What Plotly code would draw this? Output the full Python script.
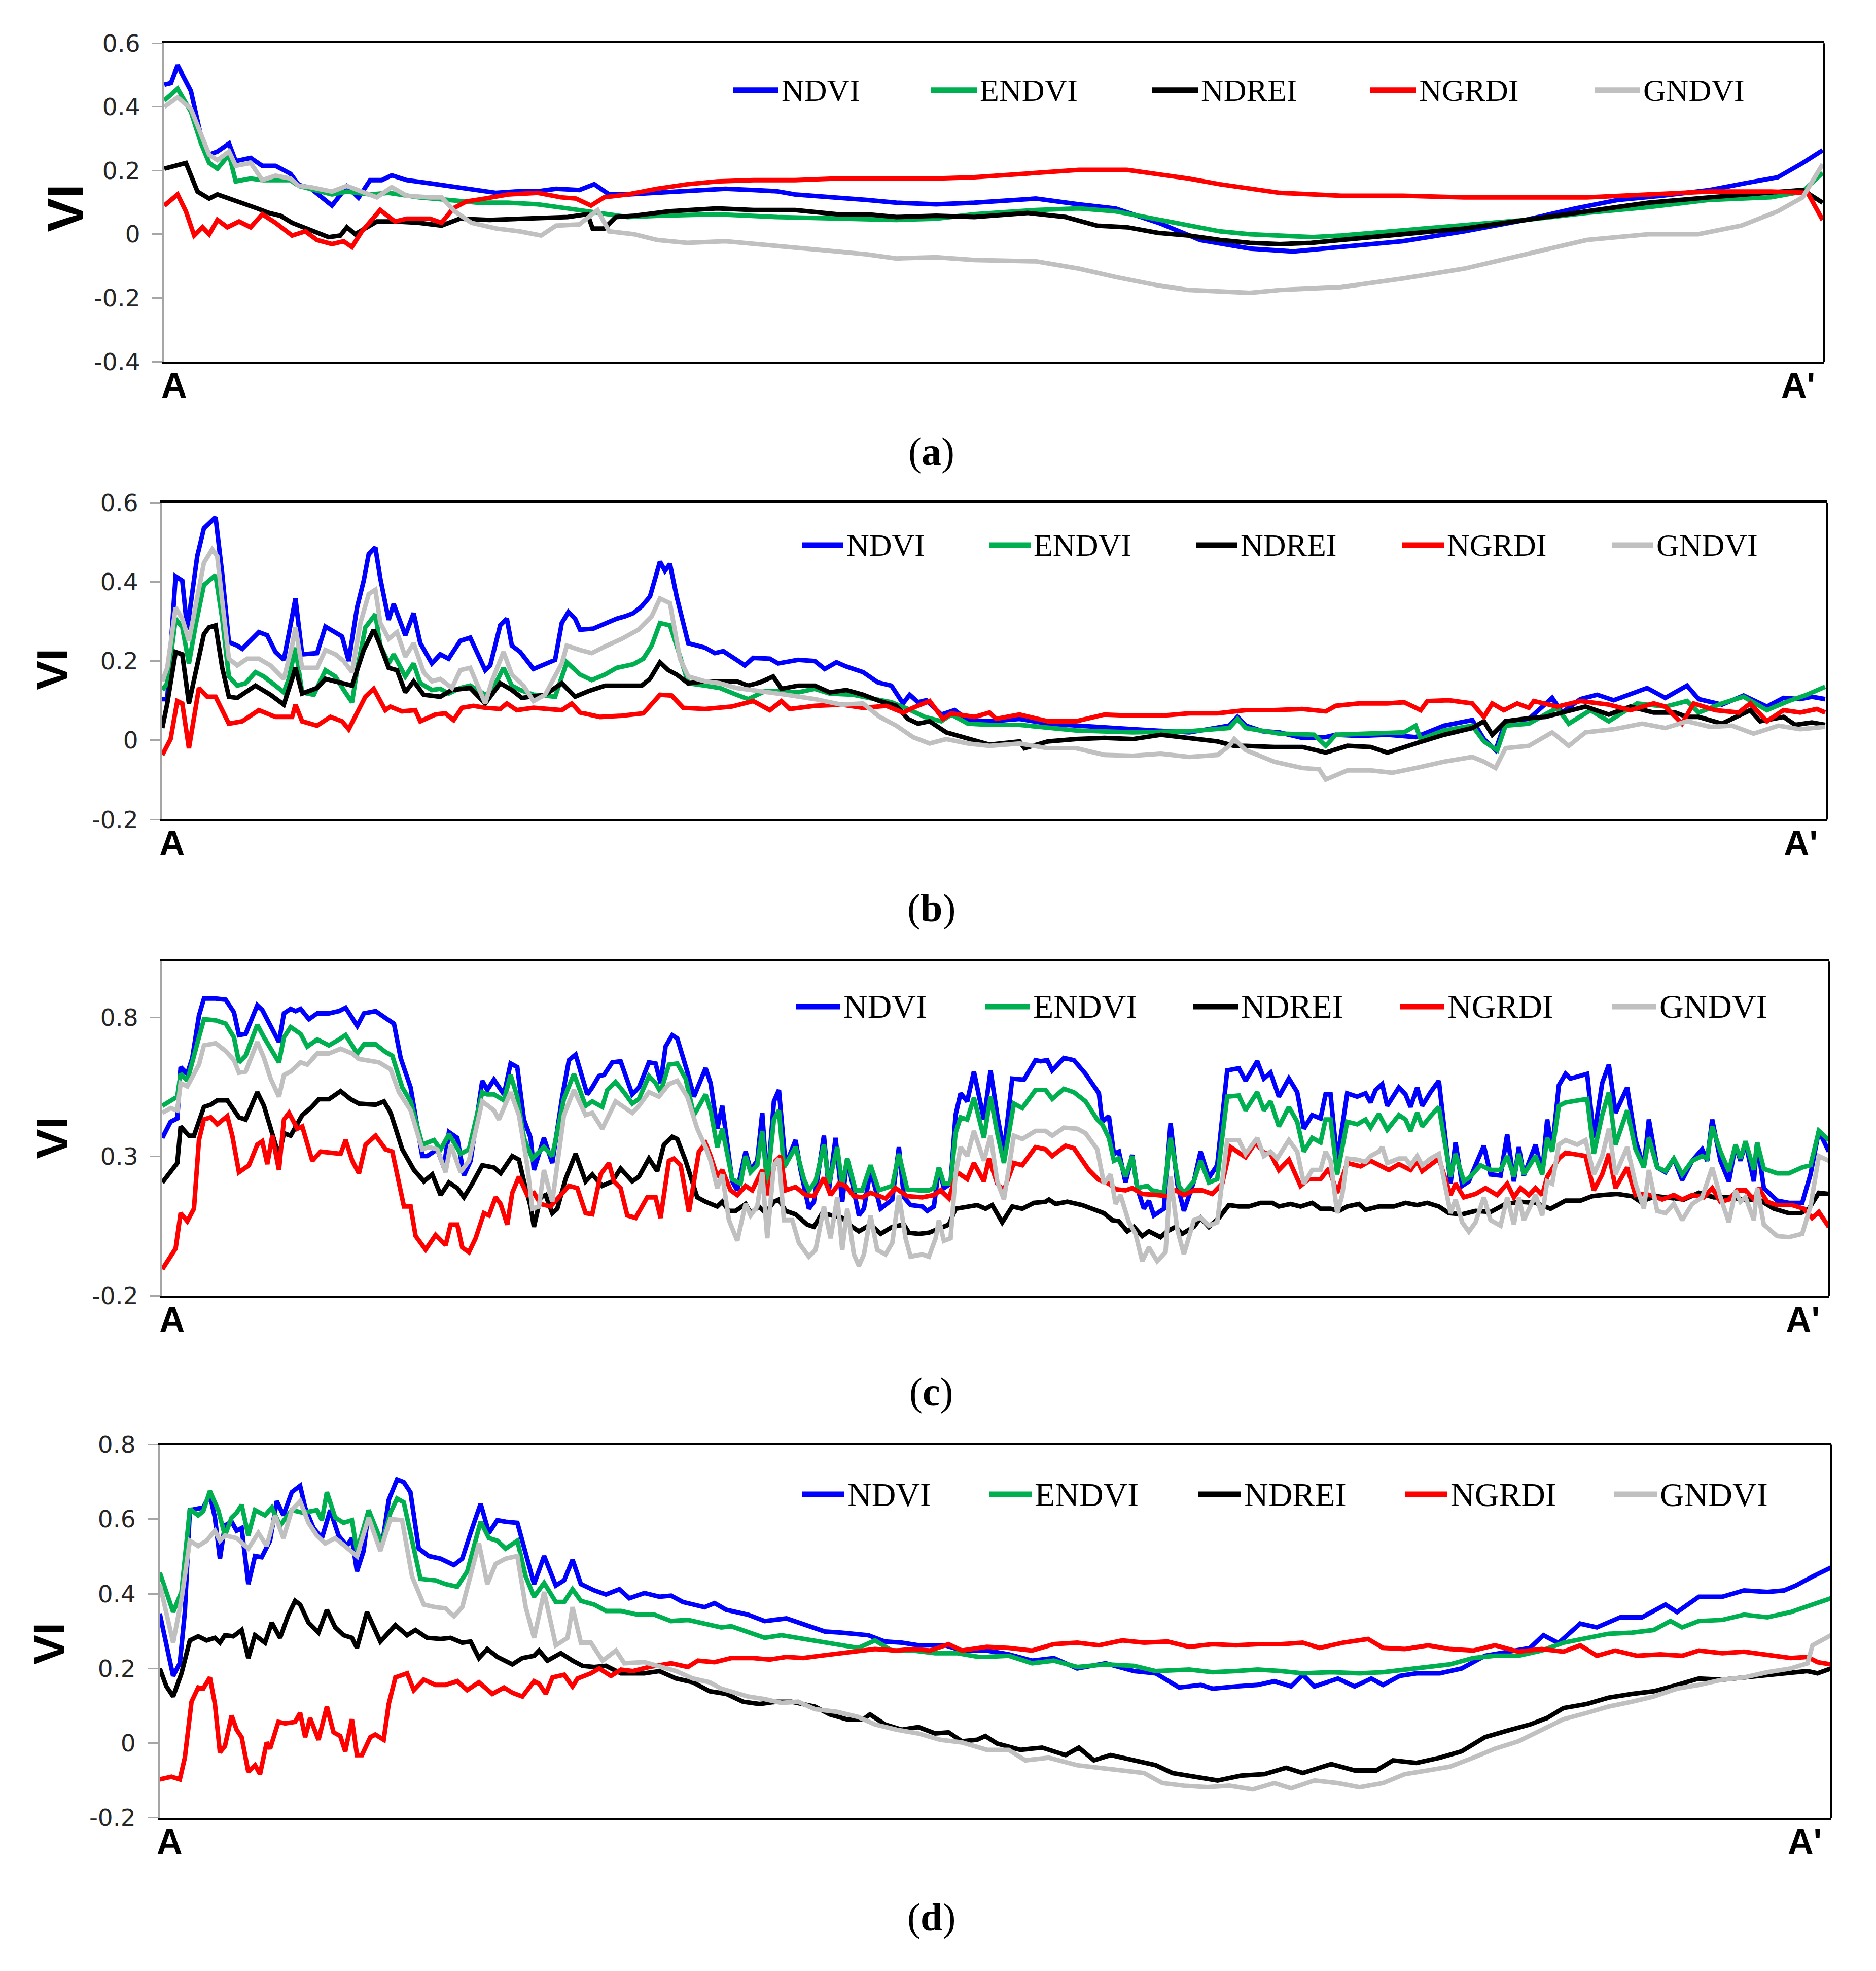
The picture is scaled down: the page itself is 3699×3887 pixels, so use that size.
import plotly.graph_objects as go

# ---- 데이터: (A→A' 위치 0~1000, VI 값) ----
a_ndvi = [(0,.47),(4,.475),(8,.53),(16,.45),(22,.31),(27,.25),(32,.26),(39,.285),(43,.23),(52,.24),(59,.215),(67,.215),(76,.19),(81,.155),(88,.145),(101,.09),(110,.15),(117,.115),(124,.17),(131,.17),(137,.185),(146,.17),(160,.16),(175,.148),(189,.139),(200,.13),(214,.135),(225,.135),(236,.143),(250,.139),(259,.157),(268,.125),(279,.125),(297,.13),(315,.135),(338,.143),(355,.139),(369,.135),(380,.125),(405,.116),(423,.108),(441,.099),(465,.094),(488,.099),(525,.112),(551,.094),(573,.081),(599,.036),(624,-.018),(654,-.045),(680,-.054),(709,-.04),(746,-.022),(783,.009),(820,.045),(850,.081),(876,.108),(902,.121),(931,.139),(953,.161),(972,.179),(987,.224),(999,.264)]
a_endvi = [(0,.42),(8,.457),(16,.385),(22,.287),(27,.224),(32,.206),(39,.25),(43,.166),(52,.175),(59,.17),(67,.17),(76,.17),(81,.152),(88,.143),(101,.125),(110,.134),(124,.125),(135,.13),(153,.116),(171,.108),(189,.099),(207,.099),(225,.094),(243,.081),(261,.067),(279,.054),(297,.058),(333,.063),(369,.054),(405,.049),(441,.045),(465,.049),(488,.063),(525,.076),(551,.081),(573,.072),(599,.045),(617,.027),(636,.009),(654,0),(672,-.004),(691,-.009),(709,-.004),(746,.013),(783,.027),(820,.045),(857,.067),(894,.085),(931,.108),(968,.116),(987,.134),(999,.193)]
a_ndrei = [(0,.206),(8,.215),(13,.224),(20,.134),(27,.112),(32,.125),(45,.103),(56,.081),(63,.067),(70,.058),(77,.036),(88,.013),(99,-.009),(106,-.004),(110,.022),(115,0),(128,.04),(139,.04),(153,.036),(167,.027),(178,.049),(196,.045),(218,.049),(243,.054),(255,.063),(258,.018),(265,.018),(272,.054),(283,.058),(304,.072),(333,.081),(355,.076),(380,.076),(405,.063),(423,.063),(441,.054),(465,.058),(488,.054),(520,.067),(543,.054),(562,.027),(580,.022),(599,.004),(617,-.004),(636,-.018),(654,-.027),(672,-.031),(691,-.027),(709,-.018),(746,0),(783,.018),(820,.045),(857,.072),(894,.099),(931,.116),(968,.13),(987,.139),(999,.099)]
a_ngrdi = [(0,.09),(8,.125),(13,.072),(18,-.004),(23,.022),(27,0),(32,.045),(38,.022),(45,.04),(52,.022),(59,.063),(67,.036),(77,-.004),(85,.009),(92,-.018),(101,-.031),(108,-.022),(113,-.04),(119,.009),(130,.076),(139,.04),(146,.049),(160,.049),(167,.036),(174,.081),(182,.103),(193,.112),(207,.125),(225,.13),(239,.116),(248,.112),(257,.09),(265,.116),(279,.125),(297,.143),(315,.157),(333,.166),(355,.17),(380,.17),(405,.175),(434,.175),(465,.175),(488,.179),(525,.193),(551,.202),(580,.202),(599,.188),(617,.175),(636,.157),(654,.143),(672,.13),(709,.121),(746,.121),(783,.116),(820,.116),(857,.116),(894,.125),(931,.134),(968,.134),(990,.13),(999,.045)]
a_gndvi = [(0,.40),(8,.43),(16,.394),(22,.314),(27,.25),(32,.233),(39,.26),(43,.215),(52,.224),(59,.17),(67,.184),(76,.175),(81,.152),(88,.148),(101,.134),(110,.152),(117,.139),(128,.116),(137,.148),(146,.121),(160,.116),(167,.116),(175,.072),(185,.036),(200,.018),(214,.009),(227,-.004),(236,.027),(250,.031),(261,.076),(268,.009),(283,0),(297,-.018),(315,-.027),(338,-.022),(355,-.031),(369,-.036),(387,-.045),(405,-.054),(423,-.063),(441,-.076),(465,-.072),(488,-.081),(525,-.085),(551,-.108),(573,-.134),(599,-.161),(617,-.175),(636,-.179),(654,-.184),(672,-.175),(709,-.166),(746,-.139),(783,-.108),(820,-.063),(857,-.018),(894,0),(924,0),(950,.027),(972,.072),(987,.116),(999,.22)]

b_ndvi = [(0,.104),(3,.104),(8,.414),(12,.403),(15,.28),(21,.465),(25,.535),(28,.546),(32,.563),(36,.42),(40,.248),(45,.239),(48,.231),(58,.273),(63,.265),(68,.223),(73,.203),(76,.268),(80,.358),(84,.217),(93,.22),(98,.287),(104,.273),(108,.262),(112,.2),(117,.335),(121,.403),(124,.47),(128,.487),(131,.408),(136,.304),(139,.344),(146,.265),(151,.321),(155,.245),(162,.194),(167,.217),(172,.206),(179,.251),(185,.259),(194,.177),(197,.189),(203,.29),(207,.307),(210,.239),(215,.223),(223,.18),(230,.194),(236,.203),(240,.296),(244,.324),(248,.307),(251,.279),(259,.282),(266,.296),(273,.307),(278,.313),(283,.321),(288,.338),(293,.363),(299,.451),(302,.428),(305,.445),(309,.363),(316,.245),(326,.234),(332,.22),(337,.225),(345,.203),(350,.189),(355,.208),(365,.206),(370,.194),(382,.203),(392,.2),(398,.18),(405,.197),(411,.186),(421,.172),(430,.146),(438,.138),(445,.093),(449,.115),(454,.096),(459,.101),(468,.065),(476,.076),(484,.051),(498,.048),(515,.054),(532,.042),(549,.037),(583,.028),(617,.02),(641,.037),(646,.059),(651,.037),(661,.023),(671,.02),(685,.006),(699,.008),(705,.014),(719,.011),(736,.014),(753,.008),(770,.037),(787,.051),(794,.003),(801,-.025),(807,.048),(821,.054),(835,.107),(841,.07),(852,.104),(862,.115),(872,.101),(881,.115),(892,.132),(903,.107),(916,.138),(923,.104),(937,.09),(950,.113),(964,.085),(974,.107),(984,.104),(991,.11),(999,.104)]
b_endvi = [(0,.127),(3,.144),(8,.307),(12,.285),(16,.194),(20,.29),(25,.392),(28,.403),(32,.417),(36,.307),(40,.161),(45,.138),(50,.144),(56,.172),(61,.161),(68,.138),(73,.121),(76,.155),(80,.234),(84,.121),(91,.115),(98,.177),(104,.161),(109,.127),(114,.096),(117,.177),(122,.285),(128,.318),(131,.239),(136,.194),(139,.217),(146,.161),(151,.194),(155,.144),(162,.127),(167,.13),(172,.118),(179,.132),(185,.138),(194,.115),(198,.124),(205,.183),(210,.138),(215,.127),(223,.115),(230,.113),(236,.11),(243,.197),(251,.166),(258,.152),(266,.166),(273,.183),(283,.192),(289,.206),(294,.239),(299,.296),(305,.29),(309,.239),(316,.144),(326,.138),(335,.132),(345,.115),(352,.104),(362,.124),(370,.124),(382,.121),(392,.13),(401,.118),(415,.115),(428,.104),(438,.096),(448,.079),(458,.059),(468,.048),(474,.065),(484,.042),(497,.039),(515,.039),(532,.031),(549,.025),(583,.02),(617,.023),(641,.031),(646,.054),(651,.031),(671,.017),(692,.014),(699,-.014),(705,.014),(726,.017),(746,.02),(753,.037),(756,.003),(770,.025),(787,.037),(794,-.003),(802,-.025),(807,.037),(821,.042),(838,.082),(845,.042),(858,.076),(869,.048),(886,.093),(903,.085),(916,.099),(923,.07),(937,.093),(950,.11),(964,.076),(977,.099),(988,.115),(999,.135)]
b_ndrei = [(0,.031),(3,.093),(8,.223),(12,.217),(16,.093),(20,.166),(25,.268),(28,.285),(32,.29),(36,.183),(40,.11),(45,.107),(56,.138),(65,.115),(73,.09),(78,.155),(80,.183),(84,.118),(93,.132),(98,.155),(109,.144),(114,.138),(121,.228),(127,.279),(131,.239),(136,.183),(141,.177),(146,.121),(151,.149),(157,.115),(167,.11),(174,.127),(185,.132),(194,.093),(203,.144),(210,.127),(216,.107),(230,.115),(240,.144),(248,.11),(256,.124),(266,.138),(276,.138),(288,.138),(293,.155),(299,.197),(304,.177),(309,.166),(316,.144),(326,.149),(335,.149),(345,.149),(352,.138),(359,.146),(367,.161),(372,.13),(382,.138),(392,.138),(401,.121),(411,.127),(421,.115),(431,.099),(441,.087),(448,.054),(454,.042),(461,.048),(471,.02),(481,.008),(491,-.003),(497,-.011),(515,-.003),(518,-.02),(532,-.003),(549,.003),(566,.006),(583,.003),(600,.014),(617,.006),(634,-.003),(644,-.014),(651,-.014),(668,-.017),(685,-.017),(699,-.031),(712,-.014),(726,-.017),(736,-.031),(753,-.008),(770,.014),(787,.031),(794,.048),(799,.014),(807,.048),(821,.056),(831,.059),(841,.07),(855,.085),(869,.065),(882,.085),(896,.07),(909,.07),(916,.059),(923,.059),(937,.042),(954,.076),(960,.048),(974,.059),(981,.039),(991,.045),(999,.039)]
b_ngrdi = [(0,-.037),(5,.003),(9,.099),(12,.093),(16,-.02),(22,.132),(27,.11),(32,.11),(40,.042),(48,.048),(58,.076),(68,.059),(78,.059),(80,.09),(84,.048),(93,.037),(101,.059),(108,.048),(112,.028),(117,.07),(122,.11),(127,.13),(134,.076),(137,.085),(144,.073),(152,.076),(155,.048),(164,.065),(170,.068),(175,.051),(180,.082),(187,.087),(194,.082),(203,.079),(207,.093),(213,.076),(223,.082),(240,.076),(246,.093),(251,.07),(263,.059),(276,.062),(289,.068),(299,.115),(306,.113),(313,.082),(326,.079),(342,.085),(355,.099),(365,.076),(372,.099),(377,.079),(392,.087),(408,.09),(421,.082),(435,.087),(445,.07),(451,.082),(461,.099),(469,.054),(474,.068),(488,.059),(497,.07),(501,.054),(515,.065),(532,.048),(549,.048),(566,.065),(583,.062),(600,.062),(617,.068),(634,.068),(651,.076),(668,.076),(685,.079),(699,.073),(705,.087),(719,.093),(736,.093),(746,.096),(756,.076),(760,.099),(773,.101),(787,.093),(794,.059),(799,.093),(806,.076),(814,.093),(821,.082),(824,.099),(838,.085),(852,.099),(869,.09),(882,.076),(896,.093),(903,.085),(913,.042),(920,.093),(933,.076),(947,.07),(954,.093),(964,.048),(974,.076),(984,.07),(994,.079),(999,.07)]
b_gndvi = [(0,.149),(3,.183),(8,.335),(12,.307),(16,.251),(20,.341),(25,.448),(30,.482),(33,.465),(36,.352),(40,.206),(45,.189),(51,.206),(58,.206),(65,.189),(73,.155),(78,.239),(80,.285),(84,.183),(93,.183),(98,.228),(104,.217),(109,.2),(114,.172),(119,.296),(124,.369),(128,.38),(131,.296),(136,.256),(141,.273),(146,.211),(151,.245),(157,.172),(162,.149),(167,.155),(174,.132),(179,.177),(185,.183),(194,.093),(198,.149),(205,.223),(210,.166),(217,.138),(223,.099),(230,.115),(240,.194),(243,.239),(251,.228),(258,.22),(266,.237),(276,.256),(286,.279),(294,.313),(299,.358),(305,.346),(311,.206),(316,.161),(326,.149),(335,.144),(345,.132),(355,.127),(365,.121),(375,.115),(392,.104),(408,.09),(421,.093),(431,.059),(441,.037),(451,.008),(461,-.008),(471,.003),(484,-.008),(497,-.014),(515,-.008),(532,-.02),(549,-.02),(566,-.037),(583,-.039),(600,-.034),(617,-.042),(634,-.037),(641,-.014),(644,.003),(651,-.025),(668,-.054),(685,-.07),(695,-.073),(699,-.099),(712,-.076),(726,-.076),(739,-.082),(753,-.07),(770,-.054),(787,-.042),(794,-.054),(801,-.07),(807,-.02),(821,-.014),(835,.02),(845,-.014),(855,.02),(872,.028),(889,.042),(903,.031),(916,.048),(930,.034),(943,.037),(956,.017),(971,.037),(984,.028),(999,.034)]

c_ndvi = [(0,.367),(5,.425),(9,.437),(11,.621),(15,.597),(18,.654),(22,.806),(25,.867),(32,.867),(38,.863),(43,.818),(46,.736),(50,.74),(57,.843),(60,.826),(65,.769),(70,.711),(73,.814),(77,.83),(80,.822),(83,.83),(88,.793),(93,.814),(100,.814),(106,.822),(110,.834),(117,.769),(121,.814),(128,.822),(134,.797),(139,.777),(143,.654),(149,.548),(156,.302),(159,.302),(165,.326),(169,.261),(172,.388),(177,.367),(181,.232),(185,.285),(192,.572),(195,.539),(199,.576),(205,.523),(209,.634),(213,.621),(217,.433),(221,.367),(223,.252),(229,.367),(234,.277),(240,.515),(244,.646),(248,.666),(255,.523),(258,.548),(262,.589),(265,.593),(270,.638),(275,.642),(282,.523),(286,.548),(292,.638),(296,.634),(299,.564),(302,.695),(306,.736),(309,.724),(315,.605),(319,.515),(326,.617),(329,.564),(333,.4),(336,.482),(342,.211),(345,.179),(350,.318),(353,.252),(357,.285),(360,.457),(363,.195),(367,.498),(370,.539),(374,.269),(380,.359),(383,.252),(388,.113),(391,.138),(397,.375),(400,.179),(404,.367),(408,.138),(411,.293),(415,.179),(418,.089),(421,.113),(425,.252),(431,.113),(438,.146),(442,.334),(445,.154),(449,.126),(456,.121),(459,.105),(463,.121),(466,.261),(469,.187),(473,.203),(476,.449),(479,.527),(483,.498),(487,.605),(493,.433),(497,.609),(501,.449),(505,.318),(510,.58),(517,.576),(524,.646),(527,.642),(531,.646),(534,.609),(541,.654),(547,.646),(554,.597),(562,.527),(564,.425),(568,.445),(571,.31),(574,.318),(578,.207),(582,.306),(585,.187),(589,.113),(592,.142),(595,.089),(601,.113),(605,.42),(609,.203),(613,.105),(619,.211),(623,.318),(628,.224),(633,.269),(639,.609),(646,.617),(650,.572),(657,.642),(661,.58),(665,.601),(670,.515),(676,.58),(681,.531),(685,.4),(690,.449),(695,.437),(698,.523),(701,.523),(705,.285),(711,.527),(717,.515),(722,.527),(725,.494),(728,.539),(732,.56),(735,.482),(742,.548),(746,.523),(749,.478),(753,.548),(756,.482),(761,.531),(766,.572),(773,.203),(776,.351),(780,.195),(784,.211),(788,.269),(793,.339),(797,.236),(803,.232),(807,.38),(811,.211),(814,.334),(817,.232),(824,.343),(828,.24),(831,.433),(834,.326),(838,.556),(842,.597),(845,.58),(855,.597),(859,.367),(864,.564),(868,.63),(872,.457),(879,.548),(884,.359),(889,.261),(892,.433),(897,.261),(902,.244),(907,.293),(912,.216),(918,.285),(924,.326),(927,.285),(930,.433),(935,.285),(940,.211),(944,.339),(947,.285),(950,.351),(955,.211),(957,.351),(961,.187),(969,.142),(976,.134),(984,.134),(989,.236),(994,.392),(997,.351),(1000,.318)]
c_endvi = [(0,.482),(5,.498),(9,.515),(11,.597),(15,.572),(22,.728),(25,.793),(32,.789),(38,.777),(43,.728),(46,.638),(50,.662),(57,.773),(61,.728),(65,.687),(70,.638),(73,.728),(77,.765),(83,.74),(87,.695),(93,.72),(100,.699),(106,.72),(110,.736),(117,.67),(121,.703),(128,.703),(134,.675),(138,.662),(144,.548),(149,.498),(156,.343),(163,.359),(167,.326),(172,.38),(179,.31),(184,.326),(192,.531),(195,.523),(199,.523),(205,.502),(209,.593),(213,.515),(217,.367),(222,.293),(229,.334),(234,.302),(241,.507),(247,.597),(254,.482),(258,.498),(264,.478),(267,.539),(272,.568),(277,.531),(282,.49),(286,.507),(292,.589),(296,.564),(299,.531),(304,.63),(309,.634),(314,.58),(319,.449),(326,.523),(329,.466),(333,.334),(336,.4),(342,.219),(347,.203),(350,.302),(353,.244),(357,.269),(360,.392),(363,.203),(367,.433),(370,.466),(373,.261),(380,.334),(385,.219),(388,.179),(392,.211),(397,.343),(400,.203),(405,.334),(408,.195),(411,.293),(416,.179),(420,.179),(425,.269),(430,.179),(438,.195),(442,.31),(447,.183),(454,.179),(460,.179),(463,.187),(466,.261),(469,.203),(473,.203),(476,.384),(479,.441),(483,.433),(487,.511),(493,.367),(497,.515),(501,.384),(505,.277),(511,.49),(516,.474),(524,.539),(530,.539),(534,.507),(541,.543),(547,.531),(554,.498),(561,.433),(564,.416),(568,.367),(571,.285),(574,.293),(578,.228),(582,.302),(585,.187),(591,.195),(594,.179),(601,.17),(605,.367),(610,.195),(613,.17),(619,.211),(623,.285),(628,.207),(633,.219),(639,.515),(646,.519),(650,.466),(657,.531),(661,.466),(665,.498),(670,.408),(676,.478),(681,.425),(685,.318),(690,.367),(695,.351),(698,.433),(701,.433),(705,.236),(711,.425),(717,.416),(722,.433),(725,.404),(730,.453),(735,.396),(742,.449),(746,.433),(749,.392),(753,.457),(756,.408),(761,.445),(766,.478),(773,.228),(776,.31),(781,.211),(785,.228),(791,.269),(797,.252),(803,.252),(807,.302),(811,.228),(814,.31),(817,.236),(824,.302),(828,.236),(831,.367),(834,.318),(838,.482),(842,.494),(853,.502),(855,.507),(859,.31),(864,.449),(868,.531),(872,.343),(879,.466),(884,.326),(889,.261),(892,.367),(897,.261),(902,.248),(907,.293),(912,.236),(918,.285),(924,.302),(927,.293),(930,.408),(935,.318),(940,.248),(944,.343),(947,.293),(950,.355),(955,.252),(957,.351),(961,.256),(969,.24),(976,.24),(984,.261),(989,.269),(994,.392),(997,.375),(1000,.359)]
c_ndrei = [(0,.207),(4,.236),(9,.277),(11,.408),(16,.375),(19,.375),(25,.478),(29,.486),(33,.502),(39,.502),(46,.441),(50,.433),(57,.531),(61,.482),(66,.375),(70,.302),(73,.384),(77,.375),(84,.449),(89,.474),(94,.506),(100,.506),(107,.535),(113,.506),(118,.49),(128,.486),(133,.498),(137,.457),(144,.326),(151,.252),(157,.211),(162,.236),(167,.162),(172,.207),(177,.187),(181,.154),(186,.203),(192,.269),(199,.261),(203,.24),(210,.302),(214,.289),(217,.211),(221,.121),(223,.048),(227,.154),(230,.162),(234,.097),(237,.113),(242,.22),(248,.31),(254,.211),(258,.236),(264,.195),(270,.211),(275,.257),(282,.211),(286,.228),(292,.293),(297,.248),(301,.343),(306,.371),(309,.363),(314,.285),(321,.154),(326,.138),(333,.121),(336,.138),(340,.105),(344,.105),(350,.13),(353,.097),(358,.121),(362,.097),(367,.138),(370,.146),(374,.105),(380,.093),(387,.056),(391,.048),(396,.097),(402,.089),(408,.08),(414,.048),(418,.032),(425,.056),(431,.023),(438,.048),(445,.056),(448,.027),(454,.023),(460,.027),(465,.04),(472,.056),(476,.113),(483,.121),(489,.126),(494,.113),(498,.126),(504,.064),(510,.121),(516,.113),(523,.134),(530,.138),(532,.146),(536,.13),(543,.138),(552,.126),(559,.109),(565,.097),(570,.072),(574,.068),(579,.032),(583,.048),(588,.015),(592,.032),(599,.011),(603,.032),(608,.048),(612,.023),(619,.048),(623,.08),(628,.048),(634,.08),(640,.126),(646,.121),(652,.121),(659,.134),(666,.134),(670,.121),(677,.13),(683,.121),(690,.134),(695,.113),(701,.113),(706,.105),(711,.121),(718,.13),(722,.109),(730,.121),(739,.121),(746,.134),(753,.126),(759,.134),(766,.121),(772,.097),(780,.093),(788,.105),(797,.101),(806,.13),(815,.138),(824,.134),(833,.113),(842,.142),(851,.142),(858,.158),(864,.162),(873,.166),(882,.158),(887,.138),(896,.158),(905,.15),(913,.146),(922,.17),(931,.154),(940,.154),(949,.146),(958,.146),(967,.113),(976,.097),(983,.097),(988,.113),(994,.17),(1000,.166)]
c_ngrdi = [(0,-.104),(4,-.067),(8,-.03),(11,.097),(15,.068),(19,.113),(22,.359),(25,.433),(29,.441),(33,.416),(39,.445),(42,.375),(46,.244),(52,.269),(57,.343),(60,.355),(63,.273),(66,.375),(70,.252),(73,.433),(76,.457),(81,.4),(84,.408),(90,.285),(95,.318),(101,.314),(107,.31),(110,.359),(114,.285),(118,.24),(122,.343),(128,.375),(134,.326),(138,.318),(142,.203),(145,.121),(149,.121),(152,.015),(158,-.034),(164,.019),(170,-.018),(173,.056),(177,.056),(180,-.026),(184,-.043),(188,.007),(193,.097),(196,.089),(200,.154),(203,.13),(207,.056),(210,.17),(214,.228),(219,.162),(223,.17),(227,.13),(233,.121),(237,.146),(244,.195),(249,.187),(254,.097),(258,.093),(263,.236),(268,.277),(271,.211),(275,.187),(279,.089),(284,.08),(291,.154),(296,.154),(299,.08),(304,.285),(307,.293),(311,.269),(316,.101),(322,.318),(326,.347),(329,.302),(333,.228),(336,.252),(341,.179),(345,.162),(350,.195),(354,.179),(360,.252),(363,.162),(368,.285),(371,.302),(374,.179),(380,.191),(386,.162),(391,.158),(397,.224),(401,.162),(406,.203),(410,.195),(415,.158),(420,.154),(425,.17),(434,.15),(440,.187),(447,.158),(456,.154),(463,.162),(467,.179),(472,.15),(477,.244),(483,.219),(487,.277),(493,.211),(496,.293),(501,.203),(505,.179),(511,.277),(516,.269),(524,.334),(530,.326),(534,.302),(542,.339),(547,.33),(556,.252),(562,.216),(568,.203),(572,.183),(578,.179),(582,.187),(588,.166),(597,.162),(603,.158),(608,.179),(613,.162),(619,.179),(624,.179),(630,.166),(636,.203),(641,.334),(650,.298),(656,.351),(661,.314),(665,.31),(670,.252),(676,.289),(683,.195),(688,.219),(695,.219),(700,.257),(705,.17),(711,.277),(719,.265),(725,.285),(730,.269),(736,.252),(742,.273),(749,.252),(753,.285),(756,.248),(766,.293),(773,.162),(776,.203),(781,.154),(788,.166),(794,.187),(801,.162),(807,.203),(811,.154),(815,.187),(820,.162),(824,.187),(828,.162),(831,.228),(838,.293),(842,.314),(846,.31),(854,.302),(859,.179),(864,.236),(868,.31),(872,.187),(879,.261),(884,.162),(889,.166),(893,.162),(900,.146),(907,.162),(912,.146),(918,.162),(925,.154),(930,.187),(935,.138),(940,.146),(945,.179),(950,.179),(955,.146),(958,.187),(963,.138),(969,.126),(978,.126),(985,.113),(990,.08),(994,.101),(1000,.048)]
c_gndvi = [(0,.457),(5,.474),(9,.466),(11,.564),(15,.552),(22,.63),(25,.699),(32,.707),(38,.679),(43,.646),(46,.601),(50,.605),(57,.711),(61,.654),(65,.58),(70,.515),(73,.593),(77,.605),(83,.638),(87,.63),(93,.67),(100,.67),(107,.687),(114,.67),(118,.65),(123,.646),(130,.638),(137,.613),(142,.531),(149,.466),(156,.326),(160,.334),(165,.326),(170,.244),(173,.343),(179,.244),(184,.285),(192,.498),(199,.466),(202,.433),(209,.531),(214,.449),(219,.269),(222,.113),(226,.121),(229,.252),(234,.138),(241,.449),(247,.539),(254,.449),(258,.457),(264,.4),(272,.498),(282,.457),(286,.482),(292,.531),(298,.515),(304,.56),(309,.572),(315,.515),(321,.4),(326,.334),(329,.285),(333,.187),(336,.236),(340,.072),(345,-.002),(350,.13),(353,.089),(357,.121),(360,.244),(363,.007),(367,.269),(370,.293),(373,.072),(378,.072),(382,-.01),(388,-.059),(392,-.035),(397,.121),(401,.007),(405,.154),(408,-.035),(411,.113),(415,-.051),(418,-.092),(421,-.051),(425,.089),(429,-.035),(434,-.051),(438,-.01),(442,.162),(446,.007),(449,-.059),(456,-.051),(460,-.059),(464,.007),(466,.072),(469,-.002),(473,.007),(476,.236),(479,.334),(483,.302),(487,.392),(493,.285),(497,.375),(501,.211),(505,.146),(511,.375),(516,.363),(524,.392),(530,.392),(534,.375),(541,.404),(549,.4),(554,.384),(561,.326),(565,.203),(569,.236),(572,.13),(575,.162),(580,.064),(584,.023),(588,-.075),(592,-.026),(597,-.075),(602,-.043),(605,.228),(609,.04),(613,-.051),(619,.072),(623,.081),(628,.052),(633,.064),(639,.359),(646,.359),(650,.31),(657,.367),(661,.302),(665,.318),(669,.293),(676,.359),(681,.318),(685,.203),(690,.252),(695,.252),(698,.318),(701,.285),(705,.097),(708,.162),(711,.293),(717,.289),(722,.281),(725,.302),(730,.318),(732,.334),(735,.277),(742,.293),(746,.293),(749,.269),(753,.302),(756,.269),(761,.293),(766,.31),(773,.097),(776,.146),(780,.064),(784,.031),(788,.064),(793,.154),(797,.072),(803,.052),(807,.154),(811,.056),(814,.154),(817,.072),(824,.162),(828,.089),(831,.211),(834,.203),(838,.343),(842,.359),(849,.343),(854,.359),(859,.236),(864,.302),(868,.4),(872,.236),(879,.334),(884,.203),(889,.113),(892,.252),(897,.105),(902,.097),(907,.13),(912,.072),(918,.13),(924,.154),(930,.261),(935,.154),(940,.064),(944,.179),(947,.138),(950,.154),(955,.072),(957,.187),(961,.056),(969,.015),(976,.011),(984,.023),(989,.121),(994,.302),(1000,.285)]

d_ndvi = [(0,.347),(4,.269),(8,.18),(12,.214),(15,.351),(18,.624),(23,.627),(26,.631),(30,.665),(33,.604),(36,.494),(39,.583),(43,.593),(46,.569),(49,.576),(53,.426),(57,.501),(61,.498),(66,.542),(70,.648),(74,.61),(79,.672),(84,.689),(87,.631),(92,.576),(97,.549),(102,.624),(107,.556),(112,.528),(115,.549),(118,.46),(122,.515),(125,.624),(128,.583),(133,.528),(137,.651),(142,.706),(146,.699),(150,.672),(155,.521),(161,.501),(168,.494),(176,.477),(181,.494),(186,.563),(192,.641),(197,.563),(202,.597),(207,.593),(214,.59),(219,.508),(224,.426),(230,.501),(237,.422),(242,.436),(247,.491),(252,.426),(260,.409),(267,.398),(275,.412),(281,.388),(290,.402),(299,.392),(306,.395),(313,.378),(326,.364),(332,.375),(339,.357),(352,.344),(362,.327),(375,.334),(388,.313),(398,.299),(408,.296),(424,.289),(434,.272),(444,.269),(454,.262),(470,.262),(480,.248),(495,.248),(508,.238),(522,.221),(535,.228),(549,.2),(566,.214),(583,.193),(596,.187),(610,.149),(623,.156),(630,.146),(644,.152),(657,.156),(667,.166),(677,.152),(684,.183),(691,.152),(705,.173),(715,.152),(725,.173),(732,.156),(742,.18),(752,.187),(766,.187),(779,.2),(793,.234),(806,.245),(820,.255),(828,.289),(837,.268),(850,.32),(860,.31),(874,.337),(887,.337),(901,.371),(908,.351),(921,.392),(935,.392),(948,.409),(962,.405),(972,.409),(979,.422),(989,.446),(1000,.47)]
d_endvi = [(0,.457),(4,.405),(8,.351),(13,.405),(18,.627),(23,.61),(26,.621),(30,.675),(35,.624),(39,.556),(43,.604),(46,.617),(49,.638),(53,.556),(57,.624),(63,.61),(67,.631),(72,.583),(79,.624),(86,.617),(94,.624),(97,.597),(100,.672),(105,.604),(110,.59),(115,.597),(118,.515),(125,.624),(133,.535),(138,.617),(142,.655),(146,.645),(151,.542),(156,.44),(165,.436),(171,.426),(178,.419),(184,.46),(192,.593),(197,.549),(202,.542),(207,.521),(214,.542),(219,.446),(224,.392),(230,.429),(237,.378),(242,.378),(247,.412),(252,.381),(260,.371),(267,.354),(276,.354),(286,.344),(296,.344),(306,.327),(316,.33),(326,.32),(336,.31),(342,.313),(352,.296),(362,.282),(372,.289),(382,.282),(395,.272),(408,.262),(418,.255),(428,.275),(438,.248),(451,.248),(464,.241),(477,.241),(490,.231),(495,.231),(508,.234),(522,.214),(535,.221),(549,.204),(566,.211),(583,.207),(596,.193),(616,.197),(630,.19),(644,.193),(657,.197),(671,.193),(684,.187),(701,.19),(718,.187),(732,.19),(745,.197),(759,.207),(772,.211),(786,.228),(799,.234),(813,.234),(827,.248),(840,.269),(854,.282),(867,.293),(881,.296),(894,.303),(904,.327),(911,.31),(921,.327),(935,.33),(948,.344),(962,.337),(976,.351),(989,.371),(1000,.388)]
d_ndrei = [(0,.2),(4,.152),(8,.125),(13,.187),(18,.275),(23,.286),(28,.275),(33,.282),(36,.269),(39,.289),(44,.286),(49,.303),(53,.228),(57,.289),(63,.269),(67,.323),(72,.282),(77,.344),(81,.381),(84,.371),(89,.323),(95,.296),(100,.357),(105,.31),(110,.289),(115,.282),(118,.255),(124,.351),(132,.272),(141,.316),(148,.289),(153,.303),(160,.282),(168,.279),(174,.282),(181,.269),(186,.272),(191,.228),(196,.252),(202,.231),(211,.211),(217,.228),(224,.234),(227,.248),(232,.221),(240,.241),(247,.221),(253,.207),(260,.204),(267,.207),(276,.187),(290,.187),(299,.193),(309,.173),(319,.163),(329,.139),(339,.132),(349,.111),(359,.105),(369,.111),(378,.111),(392,.098),(401,.077),(411,.064),(421,.064),(425,.077),(434,.05),(444,.036),(454,.043),(464,.026),(472,.029),(480,.005),(489,.009),(494,.019),(501,-.001),(515,-.018),(528,-.012),(542,-.032),(550,-.012),(559,-.046),(569,-.032),(583,-.046),(596,-.059),(606,-.08),(620,-.09),(633,-.1),(647,-.087),(661,-.083),(674,-.066),(684,-.08),(701,-.056),(715,-.073),(728,-.073),(738,-.046),(752,-.053),(766,-.039),(779,-.022),(793,.016),(806,.033),(820,.05),(830,.067),(840,.094),(854,.105),(867,.122),(881,.132),(894,.139),(908,.156),(921,.173),(935,.17),(948,.176),(962,.183),(976,.187),(986,.193),(992,.187),(1000,.2)]
d_ngrdi = [(0,-.097),(7,-.09),(12,-.097),(15,-.039),(19,.111),(23,.149),(26,.146),(30,.176),(33,.105),(36,-.025),(39,-.008),(43,.074),(46,.036),(49,.016),(53,-.077),(57,-.059),(60,-.083),(64,.002),(66,-.015),(71,.057),(75,.053),(81,.057),(84,.081),(87,.016),(90,.067),(95,.009),(100,.098),(104,.029),(108,.019),(111,-.022),(115,.064),(118,-.032),(121,-.032),(126,.016),(129,.023),(134,.009),(137,.105),(141,.176),(148,.187),(152,.142),(158,.17),(165,.156),(171,.156),(178,.166),(184,.142),(191,.163),(199,.132),(206,.149),(211,.135),(217,.125),(224,.166),(227,.159),(231,.132),(235,.176),(242,.183),(247,.152),(250,.173),(258,.187),(263,.2),(270,.18),(276,.197),(283,.193),(293,.204),(306,.214),(316,.204),(322,.221),(332,.217),(342,.228),(355,.228),(365,.224),(375,.231),(385,.228),(395,.234),(408,.241),(418,.245),(428,.252),(441,.248),(451,.252),(461,.248),(472,.265),(480,.248),(495,.258),(508,.255),(522,.248),(535,.265),(549,.269),(562,.262),(576,.275),(589,.269),(603,.272),(616,.258),(630,.265),(644,.262),(657,.265),(671,.265),(684,.269),(694,.255),(708,.269),(723,.279),(732,.255),(745,.252),(759,.262),(772,.252),(786,.248),(799,.262),(813,.245),(827,.252),(840,.245),(850,.262),(860,.234),(871,.248),(884,.234),(898,.238),(911,.234),(921,.248),(935,.241),(948,.245),(962,.238),(976,.228),(986,.231),(992,.217),(1000,.211)]
d_gndvi = [(0,.426),(4,.351),(8,.269),(13,.385),(18,.542),(23,.528),(28,.542),(33,.569),(36,.542),(39,.556),(46,.549),(53,.521),(59,.563),(64,.528),(69,.61),(74,.549),(79,.624),(84,.648),(89,.59),(94,.556),(99,.535),(105,.549),(112,.521),(118,.501),(125,.604),(132,.515),(138,.6),(145,.597),(151,.446),(158,.371),(165,.364),(171,.361),(176,.34),(181,.364),(191,.535),(196,.426),(201,.48),(207,.494),(214,.501),(219,.364),(224,.282),(230,.405),(237,.262),(244,.282),(247,.364),(252,.269),(258,.269),(265,.221),(273,.248),(278,.214),(290,.217),(299,.207),(309,.193),(319,.173),(329,.163),(336,.146),(342,.139),(352,.125),(362,.118),(372,.108),(382,.111),(392,.091),(405,.084),(418,.07),(428,.05),(441,.036),(454,.026),(467,.009),(480,.002),(490,-.012),(495,-.018),(508,-.018),(518,-.046),(532,-.039),(549,-.059),(562,-.066),(576,-.073),(589,-.08),(600,-.107),(613,-.114),(627,-.118),(640,-.114),(654,-.124),(667,-.107),(677,-.121),(691,-.1),(705,-.107),(718,-.118),(732,-.107),(745,-.083),(759,-.073),(772,-.063),(786,-.039),(799,-.015),(813,.005),(827,.036),(840,.064),(854,.081),(867,.098),(881,.111),(894,.125),(908,.146),(921,.156),(935,.17),(948,.176),(962,.19),(976,.2),(986,.214),(989,.262),(1000,.289)]

names = ["NDVI", "ENDVI", "NDREI", "NGRDI", "GNDVI"]
colors = ["#0000FF", "#00B050", "#000000", "#FF0000", "#C0C0C0"]

a_ticks = [-0.4, -0.2, 0, 0.2, 0.4, 0.6]
a_ticktext = ["-0.4", "-0.2", "0", "0.2", "0.4", "0.6"]
b_ticks = [-0.2, 0, 0.2, 0.4, 0.6]
b_ticktext = ["-0.2", "0", "0.2", "0.4", "0.6"]
c_ticks = [-0.2, 0.3, 0.8]
c_ticktext = ["-0.2", "0.3", "0.8"]
d_ticks = [-0.2, 0, 0.2, 0.4, 0.6, 0.8]
d_ticktext = ["-0.2", "0", "0.2", "0.4", "0.6", "0.8"]
captions = ["a", "b", "c", "d"]

# ---- 배치 (픽셀) ----
W, H = 3699, 3887
panels = [
    dict(series=[a_ndvi, a_endvi, a_ndrei, a_ngrdi, a_gndvi], yr=[-0.4, 0.6], tv=a_ticks, tt=a_ticktext,
         box=(324, 3597, 58, 695), leg=[1445, 1836, 2272, 2702, 3144], leg_y=152, leg_len=90, leg_size=62,
         vi=(129, 388, 100), cap_y=875),
    dict(series=[b_ndvi, b_endvi, b_ndrei, b_ngrdi, b_gndvi], yr=[-0.2, 0.6], tv=b_ticks, tt=b_ticktext,
         box=(320, 3602, 977, 1611), leg=[1581, 1950, 2358, 2765, 3178], leg_y=1062, leg_len=82, leg_size=62,
         vi=(102, 1311, 86), cap_y=1788),
    dict(series=[c_ndvi, c_endvi, c_ndrei, c_ngrdi, c_gndvi], yr=[-0.2, 1.0], tv=c_ticks, tt=c_ticktext,
         box=(320, 3606, 1895, 2564), leg=[1569, 1943, 2353, 2760, 3178], leg_y=1985, leg_len=88, leg_size=66,
         vi=(102, 2248, 88), cap_y=2755),
    dict(series=[d_ndvi, d_endvi, d_ndrei, d_ngrdi, d_gndvi], yr=[-0.2, 0.8], tv=d_ticks, tt=d_ticktext,
         box=(315, 3610, 2861, 3608), leg=[1581, 1950, 2363, 2770, 3183], leg_y=2961, leg_len=84, leg_size=66,
         vi=(97, 3260, 88), cap_y=3806),
]


def px(x):
    return x / W


def py(y):
    return 1 - y / H


fig = go.Figure()
annotations, shapes = [], []
layout = {}

for i, p in enumerate(panels):
    n = "" if i == 0 else str(i + 1)
    xa, ya = "x" + n, "y" + n
    left, right, top, bottom = p["box"]

    for name, color, s in zip(names, colors, p["series"]):
        xs, ys = zip(*s)
        fig.add_trace(go.Scatter(x=xs, y=ys, mode="lines", name=name, xaxis=xa, yaxis=ya,
                                 line=dict(color=color, width=9), showlegend=False))

    layout["xaxis" + n] = dict(domain=[px(left), px(right)], range=[0, 1000], anchor=ya,
                               showline=True, linecolor="black", linewidth=4, mirror=True,
                               showgrid=False, zeroline=False, showticklabels=False, ticks="")
    layout["yaxis" + n] = dict(domain=[py(bottom), py(top)], range=p["yr"], anchor=xa,
                               tickvals=p["tv"], ticktext=p["tt"],
                               showline=True, linecolor="#A6A6A6", linewidth=4,
                               ticks="outside", ticklen=20, tickwidth=3, tickcolor="#A6A6A6",
                               ticklabelstandoff=14,
                               tickfont=dict(family="DejaVu Sans", size=47, color="#262626"),
                               showgrid=False, zeroline=False)

    # 오른쪽 테두리
    shapes.append(dict(type="line", xref=xa + " domain", yref=ya + " domain", x0=1, x1=1, y0=0, y1=1,
                       line=dict(color="black", width=4)))

    # 범례 (선 + 글자)
    for name, color, lx in zip(names, colors, p["leg"]):
        shapes.append(dict(type="line", xref="paper", yref="paper",
                           x0=px(lx), x1=px(lx + p["leg_len"]), y0=py(p["leg_y"]), y1=py(p["leg_y"]),
                           line=dict(color=color, width=11)))
        annotations.append(dict(text=name, xref="paper", yref="paper", x=px(lx + p["leg_len"] + 4),
                                y=py(p["leg_y"]), xanchor="left", yanchor="middle", showarrow=False,
                                font=dict(family="Liberation Serif", size=p["leg_size"], color="black")))

    vx, vy, vs = p["vi"]
    annotations.append(dict(text="<b>VI</b>", xref="paper", yref="paper", x=px(vx), y=py(vy),
                            xanchor="center", yanchor="middle", textangle=-90, showarrow=False,
                            font=dict(family="Liberation Sans", size=vs, color="black")))
    annotations.append(dict(text="<b>A</b>", xref="paper", yref="paper", x=px(left - 8), y=py(bottom + 6),
                            xanchor="left", yanchor="top", showarrow=False,
                            font=dict(family="Liberation Sans", size=70, color="black")))
    annotations.append(dict(text="<b>A'</b>", xref="paper", yref="paper", x=px(right - 16), y=py(bottom + 6),
                            xanchor="right", yanchor="top", showarrow=False,
                            font=dict(family="Liberation Sans", size=70, color="black")))
    annotations.append(dict(text="(<b>%s</b>)" % captions[i], xref="paper", yref="paper", x=px(1836),
                            y=py(p["cap_y"]), xanchor="center", yanchor="middle", showarrow=False,
                            font=dict(family="Liberation Serif", size=78, color="black")))

fig.update_layout(width=W, height=H, margin=dict(l=0, r=0, t=0, b=0),
                  paper_bgcolor="white", plot_bgcolor="white", showlegend=False,
                  annotations=annotations, shapes=shapes, **layout)

fig.write_html("out.html", config={"displayModeBar": False},
               post_script="document.body.style.margin='0px';")
